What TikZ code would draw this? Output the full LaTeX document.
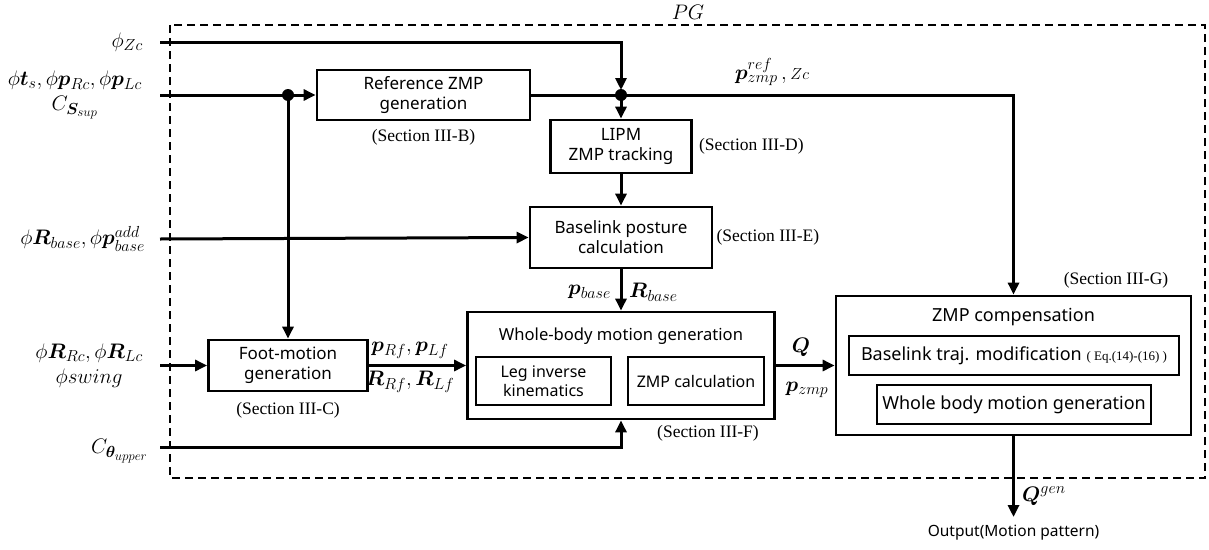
\RequirePackage{fix-cm}
\documentclass[tikz,border=0pt]{standalone}
\usepackage{fontspec}
\setmainfont{Liberation Serif}
\setsansfont{Noto Sans}
\usepackage{amsmath}
\usepackage{bm}
\DeclareMathSizes{21}{21}{16}{13}
\usetikzlibrary{arrows.meta}
\usetikzlibrary{positioning}

\tikzset{
  blk/.style={draw, line width=2.8pt, align=center, inner sep=0pt,
    font=\sffamily\fontsize{17}{20}\selectfont},
  subblk/.style={draw, line width=2pt, align=center, inner sep=0pt,
    font=\sffamily\fontsize{16}{19}\selectfont},
  sec/.style={font=\fontsize{17.5}{19}\selectfont, inner sep=0pt},
  sig/.style={font=\fontsize{21}{25}\selectfont, align=center, inner sep=0pt},
  flow/.style={line width=3pt, -{Triangle[length=12pt,width=11pt]}},
}

\begin{document}
\begin{tikzpicture}[x=1pt,y=-1pt]
  \useasboundingbox (0,0) rectangle (1209,549);

  % PG frame
  \draw[line width=1.6pt, dash pattern=on 8pt off 5pt] (170,25) rectangle (1205,478);
  \path (688,12) node(pgLbl)[sig] {$PG$};

  %% Blocks
  \path (423.5,95) node(refzmp)[blk, minimum width=213pt, minimum height=50pt]
    {Reference ZMP\\generation};
  \path (621,146.5) node(lipm)[blk, minimum width=141pt, minimum height=53pt]
    {LIPM\\ZMP tracking};
  \path (621,237.5) node(baselink)[blk, minimum width=182pt, minimum height=61pt]
    {Baselink posture\\calculation};
  \path (288,365.5) node(foot)[blk, minimum width=159pt, minimum height=51pt]
    {Foot-motion\\generation};
  \path (621,365.5) node(whole)[blk, minimum width=307pt, minimum height=107pt] {};
  \path (621,336) node(wholeTtl)[font=\sffamily\fontsize{16.6}{19}\selectfont]
    {Whole-body motion generation};
  \path (543.5,381) node(legik)[subblk, minimum width=135pt, minimum height=48pt]
    {Leg inverse\\kinematics};
  \path (696,381) node(zmpcalc)[subblk, minimum width=136pt, minimum height=48pt]
    {ZMP calculation};
  \path (1013.5,365.5) node(zmpcomp)[blk, minimum width=355pt, minimum height=139pt] {};
  \path (1013.5,317) node(zmpcompTtl)[font=\sffamily\fontsize{18}{21}\selectfont]
    {ZMP compensation};
  \path (1014,355.5) node(trajmod)[subblk, minimum width=330pt, minimum height=39pt,
      font=\sffamily\fontsize{18}{21}\selectfont]
    {Baselink traj. modification {\rmfamily\fontsize{13}{15}\selectfont( Eq.(14)-(16) )}};
  \path (1014,404.5) node(wbmg)[subblk, minimum width=274pt, minimum height=39pt,
      font=\sffamily\fontsize{18}{21}\selectfont]
    {Whole body motion generation};

  %% Section labels
  \node(secB)[sec, below=8pt of refzmp] {(Section III-B)};
  \node(secD)[sec, right=6pt of lipm] {(Section III-D)};
  \node(secE)[sec, right=3pt of baselink] {(Section III-E)};
  \node(secC)[sec, below=10pt of foot] {(Section III-C)};
  \path (708,433) node(secF)[sec] {(Section III-F)};
  \path (1116,280) node(secG)[sec] {(Section III-G)};

  %% Inputs
  \coordinate (zcIn) at (160,42);
  \coordinate (stepIn) at (160,95);
  \coordinate (baseIn) at (160,239);
  \coordinate (swingIn) at (160,365.5);
  \coordinate (upperIn) at (160,447);
  \node(zcLbl)[sig, left=17pt of zcIn] {$\phi_{Zc}$};
  \node(stepLbl)[sig, left=18pt of stepIn]
    {$\phi\bm{t}_s,\phi\bm{p}_{Rc},\phi\bm{p}_{Lc}$\\$C_{\bm{S}_{sup}}$};
  \node(baseLbl)[sig, left=15pt of baseIn] {$\phi\bm{R}_{base},\phi\bm{p}^{add}_{base}$};
  \node(swingLbl)[sig, left=17pt of swingIn]
    {$\phi\bm{R}_{Rc},\phi\bm{R}_{Lc}$\\$\phi swing$};
  \node(upperLbl)[sig, left=12pt of upperIn, yshift=-4pt] {$C_{\bm{\theta}_{upper}}$};

  %% Junctions
  \coordinate (split1) at (288,95);
  \coordinate (split2) at (621,95);
  \fill (split1) circle (6pt);
  \fill (split2) circle (6pt);

  %% Drawing Connecting Arrows
  \draw[flow, shorten >=5pt] (zcIn) -| (split2);
  \draw[flow] (stepIn) -- (refzmp.west);
  \draw[flow] (refzmp.east) -- (split2) -| (zmpcomp.north);
  \draw[flow] (split2) -- (lipm.north);
  \draw[flow] (lipm) -- (baselink);
  \draw[flow] (baseIn) -- (baselink.west);
  \draw[flow] (split1) -- (foot.north);
  \draw[flow] (swingIn) -- (foot.west);
  \draw[flow] (foot.east) -- (whole.west);
  \draw[flow] (baselink) -- (whole);
  \draw[flow] (upperIn) -| (whole.south);
  \draw[flow] (whole.east) -- (zmpcomp.west);
  \path (1013.5,533) node(outLbl)[font=\sffamily\fontsize{15.5}{18}\selectfont]
    {Output(Motion pattern)};
  \draw[flow] (zmpcomp.south) -- (1013.5,517) coordinate(outTip);

  %% Signal labels
  \path (772,72) node(prefLbl)[sig] {$\bm{p}^{ref}_{zmp}\,,{\scriptstyle Zc}$};
  \node(pbaseLbl)[sig, anchor=east] at (611,292) {$\bm{p}_{base}$};
  \node(RbaseLbl)[sig, anchor=west] at (629,292) {$\bm{R}_{base}$};
  \path (410,350) node(pfLbl)[sig] {$\bm{p}_{Rf},\bm{p}_{Lf}$};
  \path (410,382) node(RfLbl)[sig] {$\bm{R}_{Rf},\bm{R}_{Lf}$};
  \path (801,347) node(QLbl)[sig] {$\bm{Q}$};
  \path (807,390) node(pzmpLbl)[sig] {$\bm{p}_{zmp}$};
  \node(QgenLbl)[sig, anchor=west] at (1022,496) {$\bm{Q}^{gen}$};
\end{tikzpicture}
\end{document}
